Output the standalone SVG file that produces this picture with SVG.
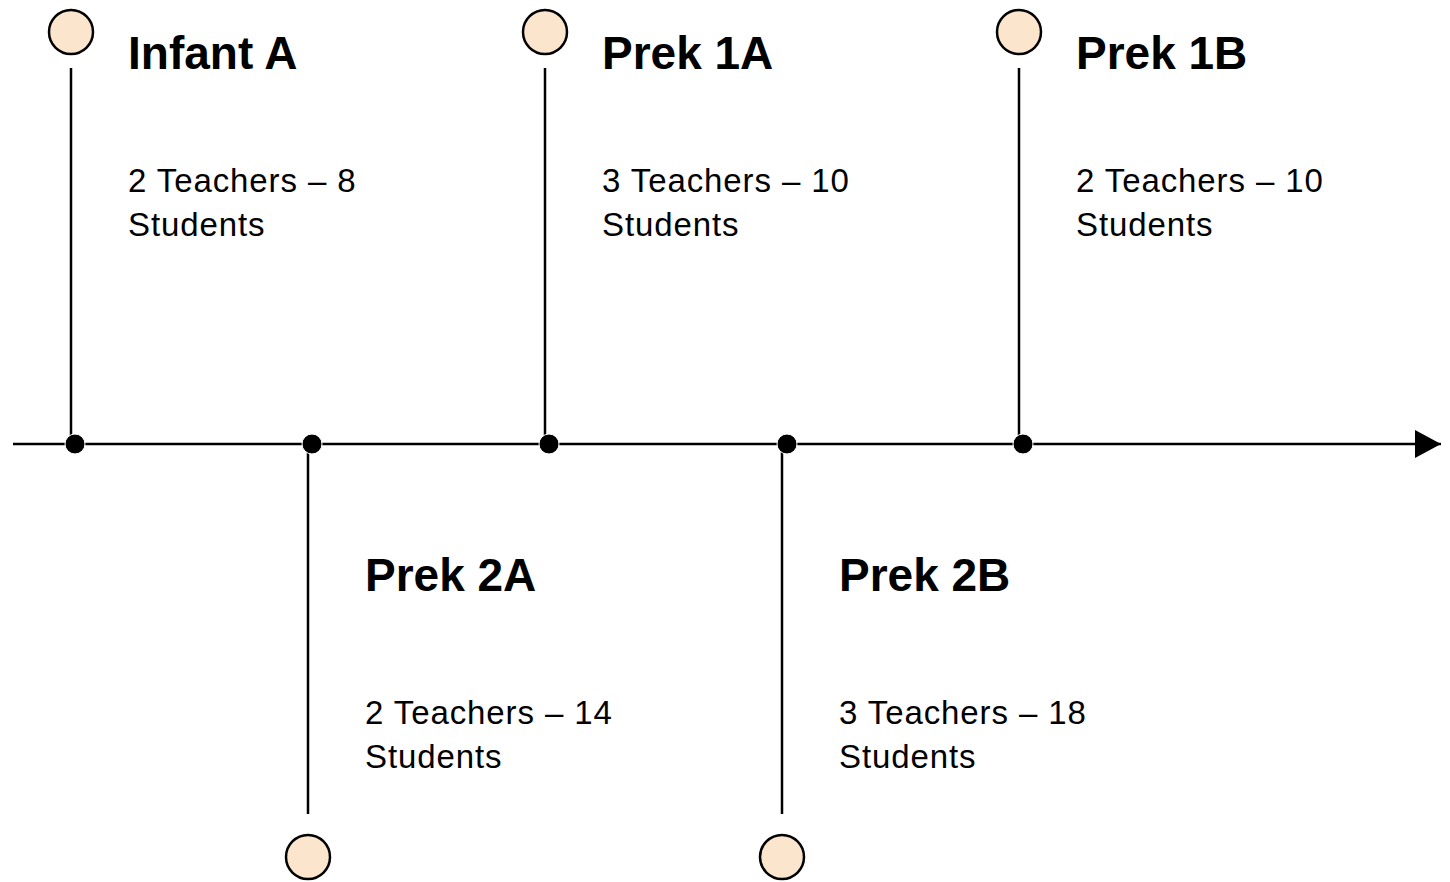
<svg xmlns="http://www.w3.org/2000/svg" width="1450" height="882" viewBox="0 0 1450 882">
<style>
.ln{stroke:#000;stroke-width:2.5;fill:none}
.pin{fill:#FBE5CD;stroke:#000;stroke-width:2.5}
.dot{fill:#000;stroke:#fff;stroke-width:1}
.t{font-family:"Liberation Sans",Arial,sans-serif;font-weight:bold;font-size:46px;fill:#000}
.b{font-family:"Liberation Sans",Arial,sans-serif;font-size:33px;letter-spacing:0.9px;fill:#000}
</style>
<defs>
<marker id="ah" markerWidth="26" markerHeight="28" refX="26" refY="14" orient="auto" markerUnits="userSpaceOnUse">
<path d="M0,0 L26,14 L0,28 Z" fill="#000"/>
</marker>
</defs>
<g id="connectors">
<line class="ln" x1="13" y1="444" x2="1441" y2="444" marker-end="url(#ah)"/>
<line class="ln" x1="71" y1="68" x2="71" y2="444"/>
<line class="ln" x1="545" y1="68" x2="545" y2="444"/>
<line class="ln" x1="1019" y1="68" x2="1019" y2="444"/>
<line class="ln" x1="308" y1="444" x2="308" y2="814"/>
<line class="ln" x1="782" y1="444" x2="782" y2="814"/>
<circle class="dot" cx="75" cy="444" r="10"/>
<circle class="dot" cx="312" cy="444" r="10"/>
<circle class="dot" cx="549" cy="444" r="10"/>
<circle class="dot" cx="787" cy="444" r="10"/>
<circle class="dot" cx="1023" cy="444" r="10"/>
</g>
<g id="infant-a">
<circle class="pin" cx="71" cy="32" r="22"/>
<text class="t" x="128" y="69">Infant A</text>
<text class="b" x="128" y="192">2 Teachers – 8</text>
<text class="b" x="128" y="236">Students</text>
</g>
<g id="prek-1a">
<circle class="pin" cx="545" cy="32" r="22"/>
<text class="t" x="602" y="69">Prek 1A</text>
<text class="b" x="602" y="192">3 Teachers – 10</text>
<text class="b" x="602" y="236">Students</text>
</g>
<g id="prek-1b">
<circle class="pin" cx="1019" cy="32" r="22"/>
<text class="t" x="1076" y="69">Prek 1B</text>
<text class="b" x="1076" y="192">2 Teachers – 10</text>
<text class="b" x="1076" y="236">Students</text>
</g>
<g id="prek-2a">
<circle class="pin" cx="308" cy="857" r="22"/>
<text class="t" x="365" y="591">Prek 2A</text>
<text class="b" x="365" y="724">2 Teachers – 14</text>
<text class="b" x="365" y="768">Students</text>
</g>
<g id="prek-2b">
<circle class="pin" cx="782" cy="857" r="22"/>
<text class="t" x="839" y="591">Prek 2B</text>
<text class="b" x="839" y="724">3 Teachers – 18</text>
<text class="b" x="839" y="768">Students</text>
</g>
</svg>
